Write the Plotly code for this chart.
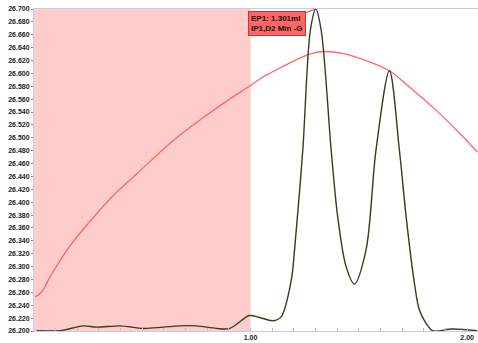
import plotly.graph_objects as go

# Titration curves: potential (red) and derivative signal (dark)
volume_red = [0.005, 0.036, 0.074, 0.166, 0.258, 0.365, 0.442, 0.535, 0.658, 0.780,
              0.903, 1.003, 1.041, 1.088, 1.272, 1.341, 1.424, 1.548, 1.641, 1.733,
              1.856, 1.965, 2.047]
signal_red = [26.253, 26.261, 26.284, 26.332, 26.370, 26.410, 26.434, 26.463, 26.500, 26.531,
              26.560, 26.582, 26.591, 26.600, 26.630, 26.634, 26.631, 26.618, 26.604, 26.579,
              26.543, 26.507, 26.478]

volume_blk = [0.013, 0.120, 0.227, 0.290, 0.397, 0.504, 0.596, 0.673, 0.750, 0.842,
              0.903, 0.995, 1.041, 1.103, 1.141, 1.188, 1.203, 1.241, 1.276, 1.301,
              1.326, 1.372, 1.402, 1.441, 1.479, 1.533, 1.579, 1.641, 1.687, 1.718,
              1.756, 1.779, 1.810, 1.840, 1.931, 2.046]
signal_blk = [26.2005, 26.2005, 26.208, 26.206, 26.208, 26.204, 26.206, 26.208, 26.208, 26.204,
              26.204, 26.224, 26.221, 26.216, 26.222, 26.279, 26.326, 26.481, 26.667, 26.700,
              26.667, 26.481, 26.378, 26.300, 26.273, 26.326, 26.481, 26.604, 26.481, 26.378,
              26.275, 26.233, 26.212, 26.2005, 26.203, 26.2005]

y_ticks = [round(26.2 + 0.02 * i, 3) for i in range(26)]
x_ticks = [1.0, 2.0]
x_labels = ["1.00", "2.00"]

ep_volume = 1.301
ep_label = "EP1: 1.301ml<br>IP1,D2 Min -G"

fig = go.Figure()

fig.add_shape(type="rect", xref="x", yref="paper", x0=0, x1=1.0, y0=0, y1=1,
              fillcolor="#ffcccc", line_width=0, layer="below")

fig.add_trace(go.Scatter(x=volume_red, y=signal_red, mode="lines",
                         line=dict(color="#ff6666", width=1.3, shape="spline", smoothing=1.0),
                         hoverinfo="skip"))
fig.add_trace(go.Scatter(x=volume_blk, y=signal_blk, mode="lines",
                         line=dict(color="#3a3a1c", width=1.4, shape="spline", smoothing=0.9),
                         hoverinfo="skip"))

fig.add_annotation(x=ep_volume, y=26.700, text="<b>" + ep_label + "</b>",
                   showarrow=True, arrowhead=0, arrowwidth=1, arrowcolor="#cc3333",
                   ax=-39, ay=14, align="left",
                   font=dict(family="Liberation Sans, Arial", size=8, color="#111"),
                   bgcolor="#ff6666", bordercolor="#cc3333", borderwidth=1, borderpad=2)

fig.update_layout(
    width=478, height=343,
    margin=dict(l=34, r=0, t=9, b=12),
    paper_bgcolor="white", plot_bgcolor="white",
    showlegend=False,
    xaxis=dict(range=[0, 2.05], tickvals=x_ticks, ticktext=x_labels,
               ticks="inside", ticklen=3, tickcolor="#bbbbcc",
               minor=dict(dtick=0.1, tick0=0, ticks="inside", ticklen=3, tickcolor="#bbbbcc"),
               showgrid=False, zeroline=False,
               showline=True, linecolor="#c8c8f0", linewidth=1, mirror=True,
               tickfont=dict(family="Liberation Sans, Arial", size=7, color="#222", weight="bold")),
    yaxis=dict(range=[26.2, 26.7], tickvals=y_ticks,
               ticktext=[f"{v:.3f}" for v in y_ticks],
               ticks="outside", ticklen=2, tickcolor="#b08040",
               showgrid=False, zeroline=False,
               showline=True, linecolor="#c8c8f0", linewidth=1,
               tickfont=dict(family="Liberation Sans, Arial", size=7, color="#222", weight="bold")),
)

fig.write_html("out.html")
